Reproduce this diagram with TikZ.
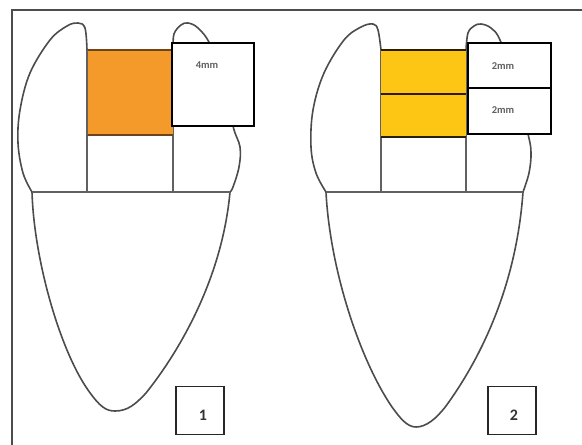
\documentclass[tikz,border=0pt]{standalone}
\usepackage{fontspec}
\setmainfont{Carlito}
\begin{document}
\begin{tikzpicture}[x=1pt,y=-1pt,
  outline/.style={draw=black!70,line width=1.6pt,line join=round},
  frameline/.style={draw=black!70,line width=2.2pt},
  sepline/.style={draw=black!62,line width=1.5pt},
  labelbox/.style={draw=black,fill=white,line width=1.4pt,inner sep=0pt,rectangle},
  digitbox/.style={draw=black!85,line width=1.4pt,inner sep=0pt,rectangle,minimum width=48pt,minimum height=48pt},
  mmtext/.style={font=\fontsize{10.5}{12}\selectfont\bfseries,text=black!62,inner sep=0pt},
  digittext/.style={font=\fontsize{16}{18}\selectfont\bfseries,text=black!80,inner sep=0pt}]
\definecolor{fillorange}{HTML}{F49A2A}
\definecolor{edgebrown}{HTML}{6E4418}
\definecolor{fillyellow}{HTML}{FDC614}
\definecolor{edgedark}{HTML}{2A1C05}
\useasboundingbox (0,0) rectangle (582,445);
\fill[white] (0,0) rectangle (582,445);

% page frame: top and left rules
\draw[frameline] (582,10) -- (12,10) -- (12,445);

% ---------- tooth 1 ----------
% crown, left cusp
\draw[outline] plot[smooth,tension=0.6] coordinates
  {(32,192) (23,173) (18,143) (20,110) (30,73) (50,40) (67,26) (78,23) (85,28) (87,50)};
% crown, right cusp
\draw[outline] plot[smooth,tension=0.6] coordinates
  {(173,50) (174,34) (181,25) (188,23) (198,28) (210,44) (224,80) (233,126) (240,147) (239,167) (233,187) (230,192)};
% root
\draw[outline] (32,192) .. controls (34,260) and (60,350) .. (88,390)
                        .. controls (100,407) and (106,411) .. (115,411)
                        .. controls (127,411) and (135,405) .. (146,393)
                        .. controls (178,353) and (222,280) .. (230,192);
% cervical line and proximal lines
\draw[sepline] (32,192) -- (230,192);
\draw[sepline] (87,50) -- (87,192);
\draw[sepline] (173,50) -- (173,192);
% restoration block
\fill[fillorange] (87,50) rectangle (173,135);
\draw[edgebrown,line width=1.8pt] (87,50) -- (173,50);
\draw[edgebrown,line width=1.8pt] (87,135) -- (173,135);
\draw[sepline] (87,50) -- (87,135);
% label box
\node[labelbox,minimum width=82pt,minimum height=83pt] (box4) at (213,84.5) {};
\node[mmtext] (t4) at (207,65) {4mm};
% figure number
\node[digitbox] (n1) at (200,410.5) {};
\node[digittext] (d1) at (203,415) {1};

% ---------- tooth 2 ----------
% crown, left cusp
\draw[outline] plot[smooth,tension=0.6] coordinates
  {(326,192) (316,173) (311,147) (313,110) (324,73) (344,40) (361,27) (373,24) (378,30) (381,50)};
% crown, right cusp
\draw[outline] plot[smooth,tension=0.6] coordinates
  {(466,50) (468,33) (474,26) (481,24) (491,28) (500,40) (514,80) (528,134) (531,153) (529,173) (523,192)};
% root
\draw[outline] (326,192) .. controls (330,270) and (360,360) .. (392,407)
                         .. controls (400,418) and (407,427) .. (416,427)
                         .. controls (426,427) and (436,419) .. (446,406)
                         .. controls (478,362) and (516,290) .. (523,192);
% cervical line and proximal lines
\draw[sepline] (326,192) -- (523,192);
\draw[sepline] (381,50) -- (381,192);
\draw[sepline] (466,50) -- (466,192);
% two layered increments
\fill[fillyellow] (381,50) rectangle (466,137);
\draw[edgedark,line width=1.4pt] (381,50) -- (466,50);
\draw[edgedark,line width=2pt] (381,94) -- (466,94);
\draw[edgedark,line width=2.2pt] (381,137) -- (466,137);
% label boxes
\node[labelbox,minimum width=83pt,minimum height=45pt] (box2a) at (509.5,65.5) {};
\node[labelbox,minimum width=83pt,minimum height=46pt] (box2b) at (509.5,111) {};
\node[mmtext] (t2a) at (503,66) {2mm};
\node[mmtext] (t2b) at (503,110) {2mm};
% figure number
\node[digitbox] (n2) at (512,410.5) {};
\node[digittext] (d2) at (514,415) {2};
\end{tikzpicture}
\end{document}
